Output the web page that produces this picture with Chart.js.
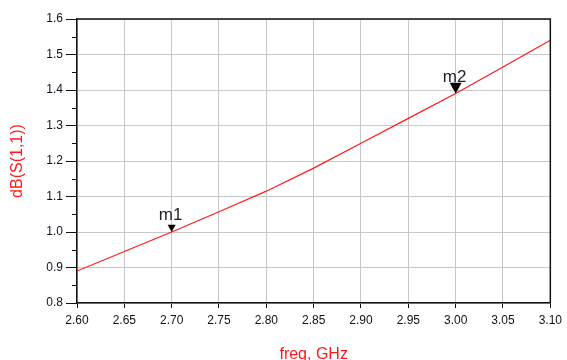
<!DOCTYPE html>
<html>
<head>
<meta charset="utf-8">
<script src="https://cdn.jsdelivr.net/npm/chart.js@4.4.1/dist/chart.umd.min.js"></script>
<style>
  html, body { margin: 0; padding: 0; background: #fff; }
  canvas { display: block; }
</style>
</head>
<body>
<canvas id="s11Chart" width="567" height="360"></canvas>
<script>
// sweep data
const freqGHz = [2.60, 2.65, 2.70, 2.75, 2.80, 2.85, 2.90, 2.95, 3.00, 3.05, 3.10];
const s11dB = [0.89, 0.945, 1.00, 1.057, 1.115, 1.18, 1.25, 1.32, 1.39, 1.465, 1.54];

// markers
const markerNames = ['m1', 'm2'];
const markerFreq = [2.70, 3.00];
const markerVal = [1.00, 1.39];
const markerSize = [8, 12];

// y minor ticks
const yMinorTicks = [0.85, 0.95, 1.05, 1.15, 1.25, 1.35, 1.45, 1.55];

const tickFont = { family: 'Liberation Sans, Arial, sans-serif', size: 12 };
const titleFont = { family: 'Liberation Sans, Arial, sans-serif', size: 16, lineHeight: 1 };

// box, minor ticks, markers
const plotExtras = {
  id: 'plotExtras',
  afterDraw(chart) {
    const ctx = chart.ctx;
    const a = chart.chartArea;
    const xs = chart.scales.x;
    const ys = chart.scales.y;
    ctx.save();

    ctx.strokeStyle = '#111';
    ctx.lineWidth = 1.5;
    ctx.beginPath();
    ctx.moveTo(a.left, a.top);
    ctx.lineTo(a.right, a.top);
    ctx.lineTo(a.right, a.bottom);
    ctx.stroke();

    ctx.lineWidth = 1;
    ctx.beginPath();
    yMinorTicks.forEach(v => {
      const y = Math.round(ys.getPixelForValue(v)) + 0.5;
      ctx.moveTo(a.left - 5, y);
      ctx.lineTo(a.left, y);
    });
    ctx.stroke();

    markerNames.forEach((name, i) => {
      const x = xs.getPixelForValue(markerFreq[i]);
      const y = ys.getPixelForValue(markerVal[i]);
      const w = markerSize[i];
      const h = markerSize[i] * 0.9;
      ctx.fillStyle = '#000';
      ctx.beginPath();
      ctx.moveTo(x, y);
      ctx.lineTo(x - w / 2, y - h);
      ctx.lineTo(x + w / 2, y - h);
      ctx.closePath();
      ctx.fill();

      ctx.fillStyle = '#1e1e2a';
      ctx.font = '17px Liberation Sans, Arial, sans-serif';
      ctx.textAlign = 'center';
      ctx.textBaseline = 'alphabetic';
      ctx.fillText(name, x - 1, y - 12);
    });

    ctx.restore();
  }
};

const ctx = document.getElementById('s11Chart').getContext('2d');
const chart = new Chart(ctx, {
  type: 'line',
  data: {
    datasets: [{
      label: 'dB(S(1,1))',
      data: freqGHz.map((f, i) => ({ x: f, y: s11dB[i] })),
      borderColor: '#ff1a1a',
      borderWidth: 1.2,
      pointRadius: 0,
      tension: 0,
      fill: false,
    }]
  },
  options: {
    responsive: false,
    animation: false,
    layout: {
      padding: { top: 19, right: 16, left: 0, bottom: 0 }
    },
    plugins: {
      legend: { display: false },
      tooltip: { enabled: false },
    },
    scales: {
      x: {
        type: 'linear',
        min: 2.6,
        max: 3.1,
        afterFit: scale => { scale.height = 57; },
        ticks: {
          stepSize: 0.05,
          color: '#10101c',
          font: tickFont,
          padding: 5,
          maxRotation: 0,
          callback: v => v.toFixed(2),
        },
        grid: {
          color: '#c8c8c8',
          tickColor: '#111',
          tickLength: 5,
          lineWidth: 1,
        },
        border: { color: '#111', width: 1.5 },
        title: {
          display: true,
          text: 'freq, GHz',
          color: '#ff1a1a',
          font: titleFont,
          padding: { top: 0, bottom: -3 },
        },
      },
      y: {
        type: 'linear',
        min: 0.8,
        max: 1.6,
        afterFit: scale => { scale.width = 77; },
        ticks: {
          stepSize: 0.1,
          color: '#10101c',
          font: tickFont,
          padding: 3,
          callback: v => v.toFixed(1),
        },
        grid: {
          color: '#c8c8c8',
          tickColor: '#111',
          tickLength: 11,
          lineWidth: 1,
        },
        border: { color: '#111', width: 1.5 },
        title: {
          display: true,
          text: 'dB(S(1,1))',
          color: '#ff1a1a',
          font: titleFont,
          padding: { top: 10, bottom: 0 },
        },
      },
    },
  },
  plugins: [plotExtras],
});
</script>
</body>
</html>
